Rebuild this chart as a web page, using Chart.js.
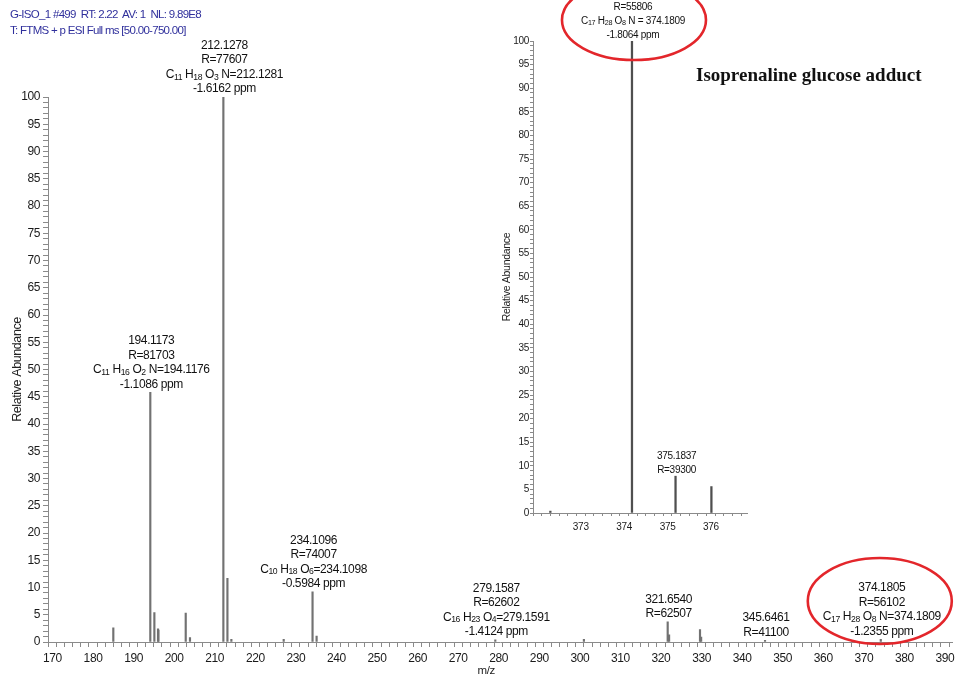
<!DOCTYPE html>
<html>
<head>
<meta charset="utf-8">
<title>Isoprenaline glucose adduct – ESI full MS</title>
<script src="https://cdn.jsdelivr.net/npm/chart.js@4.4.1/dist/chart.umd.min.js"></script>
<style>
  html, body { margin: 0; padding: 0; background: #fff; }
  #page { position: relative; width: 959px; height: 680px; overflow: hidden; }
  #mainCanvas { position: absolute; left: 0; top: 0; }
  #insetCanvas { position: absolute; left: 480px; top: 0; }
  .scanInfo { position: absolute; left: 10px; font: 11.5px 'Liberation Sans', Arial, sans-serif;
              color: #30309c; letter-spacing: -0.7px; white-space: pre; line-height: 14px; }
  .compound { position: absolute; left: 696px; top: 64px; font: bold 19px 'Liberation Serif', 'Times New Roman', serif;
              color: #111; white-space: pre; line-height: 22px; }
</style>
</head>
<body>
<div id="page">
  <canvas id="mainCanvas" width="959" height="680"></canvas>
  <canvas id="insetCanvas" width="280" height="540"></canvas>
  <div class="scanInfo" style="top:7px">G-ISO_1 #499  RT: 2.22  AV: 1  NL: 9.89E8</div>
  <div class="scanInfo" style="top:23px">T: FTMS + p ESI Full ms [50.00-750.00]</div>
  <div class="compound">Isoprenaline glucose adduct</div>
</div>
<script>
// ---- Full-scan spectrum: centroid peaks (m/z, relative abundance %) ----
const mainMz        = [185.0, 194.1173, 195.12, 196.02, 196.12, 202.85, 203.9, 212.1278, 213.13, 214.1,
                       227.0, 234.1096, 235.11, 279.1587, 301.0, 321.6540, 322.0, 329.62, 329.9, 345.6461, 374.1805];
const mainAbundance = [2.6, 45.8, 5.4, 2.4, 2.2, 5.3, 0.8, 100, 11.7, 0.5,
                       0.5, 9.2, 1.1, 0.4, 0.5, 3.7, 1.3, 2.3, 0.9, 0.3, 0.5];

// annotated peaks of the full scan
const mainLabelMz = [212.1278, 194.1173, 234.1096, 279.1587, 321.6540, 345.6461, 374.1805];
const mainLabelLines = [
  ['212.1278', 'R=77607', 'C11 H18 O3 N=212.1281', '-1.6162 ppm'],
  ['194.1173', 'R=81703', 'C11 H16 O2 N=194.1176', '-1.1086 ppm'],
  ['234.1096', 'R=74007', 'C10 H18 O6=234.1098', '-0.5984 ppm'],
  ['279.1587', 'R=62602', 'C16 H23 O4=279.1591', '-1.4124 ppm'],
  ['321.6540', 'R=62507'],
  ['345.6461', 'R=41100'],
  ['374.1805', 'R=56102', 'C17 H28 O8 N=374.1809', '-1.2355 ppm']
];
const mainXTickLabels = [170, 180, 190, 200, 210, 220, 230, 240, 250, 260, 270, 280, 290,
                         300, 310, 320, 330, 340, 350, 360, 370, 380, 390];
const mainYTickLabels = [0, 5, 10, 15, 20, 25, 30, 35, 40, 45, 50, 55, 60, 65, 70, 75, 80, 85, 90, 95, 100];

// ---- Zoomed view of the [M+H]+ isotope cluster ----
const insetMz        = [372.3, 374.1802, 375.1837, 376.01];
const insetAbundance = [0.4, 100, 7.8, 5.6];
const insetLabelMz = [374.1802, 375.1837];
const insetLabelLines = [
  ['R=55806', 'C17 H28 O8 N = 374.1809', '-1.8064 ppm'],
  ['375.1837', 'R=39300']
];
const insetXTickLabels = [373, 374, 375, 376];
const insetYTickLabels = mainYTickLabels;

const SANS = "'Liberation Sans', Arial, Helvetica, sans-serif";
const AXIS_GREY = '#8a8a8a';
const RING_RED = '#e3262b';

// evenly spaced tick marks between two bounds (labels are chosen separately)
function tickMarks(from, to, step) {
  const out = [];
  const n = Math.round((to - from) / step);
  for (let i = 0; i <= n; i++) out.push({ value: +(from + i * step).toFixed(6) });
  return out;
}
function labelFrom(list) {
  return (v) => {
    const hit = list.find(l => Math.abs(l - v) < 1e-6);
    return hit === undefined ? '' : String(hit);
  };
}
function valueAt(mzList, abList, mz) {
  const i = mzList.findIndex(m => Math.abs(m - mz) < 1e-6);
  return i < 0 ? 0 : abList[i];
}

// one annotation line; elemental formulas get subscripted atom counts
function drawLabelLine(ctx, text, cx, cy, size) {
  ctx.textBaseline = 'middle';
  const eq = text.indexOf('=');
  const isFormula = eq > 0 && /^[A-Z][a-z]?\d/.test(text);
  if (!isFormula) {
    ctx.font = size + 'px ' + SANS;
    ctx.textAlign = 'center';
    ctx.fillText(text, cx, cy);
    return;
  }
  const segs = [];
  text.slice(0, eq).replace(/([A-Za-z]+)(\d*)(\s*)/g, (m, el, num, sp) => {
    segs.push({ t: el, sub: false });
    if (num) segs.push({ t: num, sub: true });
    if (sp) segs.push({ t: sp, sub: false });
    return m;
  });
  segs.push({ t: text.slice(eq), sub: false });
  const subSize = size * 0.72;
  let total = 0;
  segs.forEach(s => {
    ctx.font = (s.sub ? subSize : size) + 'px ' + SANS;
    s.w = ctx.measureText(s.t).width;
    total += s.w;
  });
  let x = cx - total / 2;
  ctx.textAlign = 'left';
  segs.forEach(s => {
    ctx.font = (s.sub ? subSize : size) + 'px ' + SANS;
    ctx.fillText(s.t, x, s.sub ? cy + size * 0.22 : cy);
    x += s.w;
  });
}

function peakLabelPlugin(cfg) {
  return {
    id: 'peakLabels',
    beforeDraw(chart) { chart.ctx.letterSpacing = cfg.spacing; },
    afterDatasetsDraw(chart) {
      const { ctx, scales: { x, y } } = chart;
      ctx.save();
      ctx.letterSpacing = cfg.spacing;
      ctx.fillStyle = '#111';
      cfg.labelMz.forEach((mz, i) => {
        const px = x.getPixelForValue(mz);
        const top = y.getPixelForValue(valueAt(cfg.mz, cfg.abundance, mz));
        const lines = cfg.lines[i];
        lines.forEach((line, k) => {
          const cy = top - cfg.gap - (lines.length - 1 - k) * cfg.lineHeight;
          drawLabelLine(ctx, line, px + cfg.dx, cy, cfg.size);
        });
      });
      // axis caption placed slightly left of the plot centre
      if (cfg.xCaption) {
        ctx.font = cfg.xCaption.size + 'px ' + SANS;
        ctx.fillStyle = '#222';
        ctx.textAlign = 'center';
        ctx.textBaseline = 'middle';
        ctx.fillText(cfg.xCaption.text, (chart.chartArea.left + chart.chartArea.right) / 2 + cfg.xCaption.dx,
                     chart.height - cfg.xCaption.fromBottom);
      }
      if (cfg.ring) {
        const r = cfg.ring;
        const cx = x.getPixelForValue(r.mz) + r.dx;
        const cy = y.getPixelForValue(r.at) + r.dy;
        ctx.beginPath();
        ctx.ellipse(cx, cy, r.rx, r.ry, 0, 0, Math.PI * 2);
        ctx.strokeStyle = RING_RED;
        ctx.lineWidth = 2.6;
        ctx.stroke();
      }
      ctx.restore();
    }
  };
}

function axisOptions(o) {
  return {
    type: 'linear',
    min: o.min, max: o.max,
    offset: false,
    afterBuildTicks: (s) => { s.ticks = tickMarks(o.tickFrom, o.tickTo, o.step); },
    afterFit: (s) => { if (o.width !== undefined) s.width = o.width; if (o.height !== undefined) s.height = o.height; },
    border: { display: true, color: AXIS_GREY, width: 1 },
    grid: { drawOnChartArea: false, drawTicks: true, tickLength: o.tickLength, tickColor: AXIS_GREY, tickWidth: 1 },
    ticks: {
      autoSkip: false, maxRotation: 0, minRotation: 0, padding: o.padding,
      color: '#1a1a1a', font: { family: SANS, size: o.fontSize },
      callback: labelFrom(o.labels)
    },
    title: o.title || { display: false }
  };
}

// ---- main full-scan chart ----
new Chart(document.getElementById('mainCanvas'), {
  type: 'bar',
  data: {
    datasets: [{
      data: mainMz.map((m, i) => ({ x: m, y: mainAbundance[i] })),
      backgroundColor: '#727272',
      borderWidth: 0,
      barThickness: 1.5
    }]
  },
  options: {
    responsive: false,
    animation: false,
    events: [],
    layout: { padding: { left: 0, right: 4, top: 97, bottom: 0 } },
    plugins: { legend: { display: false }, tooltip: { enabled: false } },
    scales: {
      x: axisOptions({
        min: 168.9, max: 391.8, tickFrom: 170, tickTo: 390, step: 2, labels: mainXTickLabels,
        height: 38, tickLength: 5, padding: 4, fontSize: 12
      }),
      y: axisOptions({
        min: 0, max: 100, tickFrom: 0, tickTo: 100, step: 1, labels: mainYTickLabels,
        width: 48, tickLength: 5, padding: 3, fontSize: 12,
        title: { display: true, text: 'Relative Abundance', color: '#222', font: { family: SANS, size: 12.5 }, padding: { top: 10, bottom: 0 } }
      })
    }
  },
  plugins: [peakLabelPlugin({
    mz: mainMz, abundance: mainAbundance, labelMz: mainLabelMz, lines: mainLabelLines,
    size: 12, lineHeight: 14.5, gap: 8, dx: 1, spacing: '-0.4px',
    xCaption: { text: 'm/z', size: 11.5, dx: -14, fromBottom: 9 },
    ring: { mz: 374.1805, at: 0, dx: -1, dy: -41, rx: 72, ry: 43 }
  })]
});

// ---- inset: isotope cluster of the glucose adduct ----
new Chart(document.getElementById('insetCanvas'), {
  type: 'bar',
  data: {
    datasets: [{
      data: insetMz.map((m, i) => ({ x: m, y: insetAbundance[i] })),
      backgroundColor: '#4f4f4f',
      borderWidth: 0,
      barThickness: 1.6
    }]
  },
  options: {
    responsive: false,
    animation: false,
    events: [],
    layout: { padding: { left: 0, right: 13, top: 41, bottom: 0 } },
    plugins: { legend: { display: false }, tooltip: { enabled: false } },
    scales: {
      x: axisOptions({
        min: 371.9, max: 376.83, tickFrom: 372, tickTo: 376.8, step: 0.2, labels: insetXTickLabels,
        height: 27, tickLength: 3, padding: 5, fontSize: 10
      }),
      y: axisOptions({
        min: 0, max: 100, tickFrom: 0, tickTo: 100, step: 1, labels: insetYTickLabels,
        width: 53, tickLength: 3, padding: 1, fontSize: 10,
        title: { display: true, text: 'Relative Abundance', color: '#222', font: { family: SANS, size: 10.5 }, padding: { top: 21, bottom: 0 } }
      })
    }
  },
  plugins: [peakLabelPlugin({
    mz: insetMz, abundance: insetAbundance, labelMz: insetLabelMz, lines: insetLabelLines,
    size: 10, lineHeight: 14, gap: 6, dx: 1, spacing: '-0.3px',
    ring: { mz: 374.1802, at: 100, dx: 2, dy: -21, rx: 72, ry: 40 }
  })]
});
</script>
</body>
</html>
